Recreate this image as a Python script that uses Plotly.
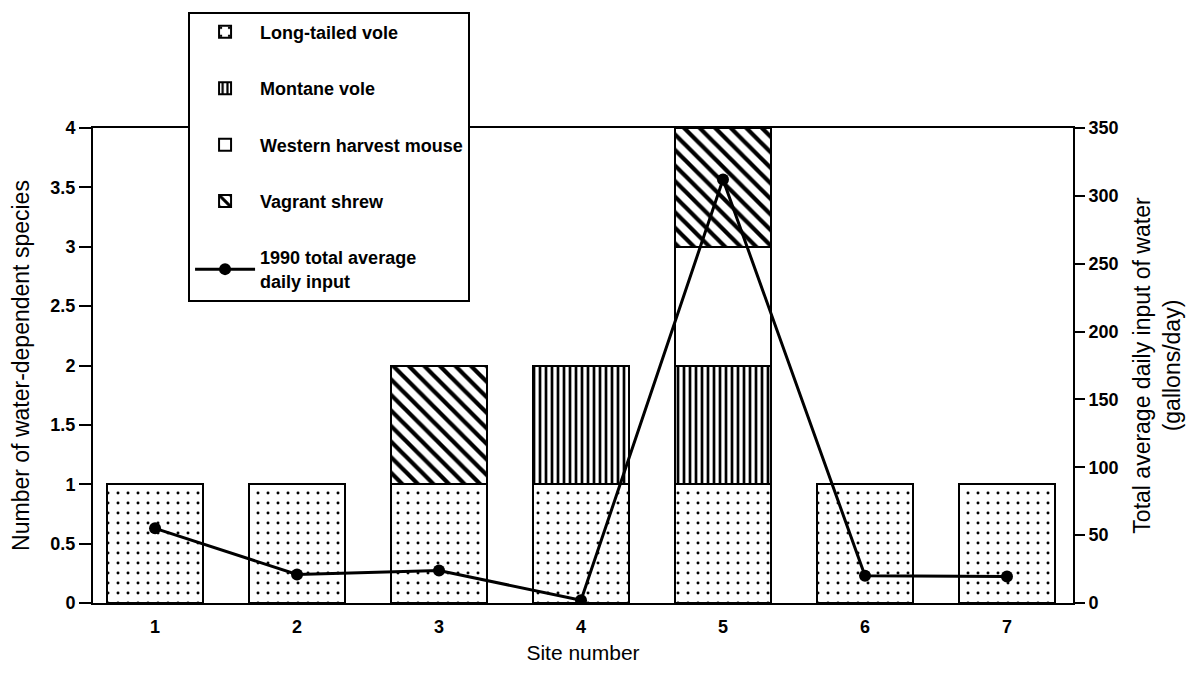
import plotly.graph_objects as go

sites = [1, 2, 3, 4, 5, 6, 7]
site_labels = ["1", "2", "3", "4", "5", "6", "7"]
long_tailed_vole = [1, 1, 1, 1, 1, 1, 1]
montane_vole = [None, None, None, 1, 1, None, None]
western_harvest_mouse = [None, None, None, None, 1, None, None]
vagrant_shrew = [None, None, 1, None, 1, None, None]
daily_input = [55, 21, 24, 2, 312, 20, 19.5]

left_ticks = [0, 0.5, 1, 1.5, 2, 2.5, 3, 3.5, 4]
right_ticks = [0, 50, 100, 150, 200, 250, 300, 350]

FONT = "Liberation Sans, Arial, sans-serif"
TICKFONT = dict(family=FONT, size=18, color="black", weight="bold")

fig = go.Figure()

bar_specs = [
    ("Long-tailed vole", long_tailed_vole, dict(shape=".", size=10, solidity=0.07)),
    ("Montane vole", montane_vole, dict(shape="|", size=6, solidity=0.45)),
    ("Western harvest mouse", western_harvest_mouse, dict(shape="")),
    ("Vagrant shrew", vagrant_shrew, dict(shape="\\", size=11, solidity=0.38)),
]
for i, (name, vals, pat) in enumerate(bar_specs):
    fig.add_trace(go.Bar(
        x=sites, y=vals, name=name, width=0.67,
        legendgroup=f"g{i}",
        marker=dict(color="white",
                    line=dict(color="black", width=2),
                    pattern=dict(fgcolor="black", bgcolor="white", fgopacity=1,
                                 fillmode="replace", **pat)),
        yaxis="y",
    ))

fig.add_trace(go.Scatter(
    x=sites, y=daily_input, name="1990 total average<br>daily input",
    mode="lines+markers", legendgroup="g4",
    line=dict(color="black", width=3),
    marker=dict(color="black", size=12),
    yaxis="y2",
))

fig.update_layout(
    width=1202, height=675,
    margin=dict(l=93, r=129, t=121, b=72),
    paper_bgcolor="white", plot_bgcolor="white",
    barmode="stack",
    font=dict(family=FONT, size=16, color="black"),
    xaxis=dict(
        range=[0.563, 7.465], tickvals=sites, ticktext=site_labels,
        showline=True, linecolor="black", linewidth=2, mirror=True,
        ticks="", showgrid=False, zeroline=False,
        tickfont=TICKFONT, ticklabelstandoff=6,
        title=dict(text="Site number", font=dict(size=21), standoff=10),
    ),
    yaxis=dict(
        range=[0, 4], tickvals=left_ticks,
        showline=True, linecolor="black", linewidth=2,
        ticks="outside", ticklen=12, tickwidth=2, tickcolor="black",
        showgrid=False, zeroline=False,
        tickfont=TICKFONT,
        title=dict(text="Number of water-dependent species", font=dict(size=23), standoff=14),
    ),
    yaxis2=dict(
        range=[0, 350], tickvals=right_ticks, overlaying="y", side="right",
        showline=True, linecolor="black", linewidth=2,
        ticks="outside", ticklen=10, tickwidth=2, tickcolor="black",
        showgrid=False, zeroline=False,
        tickfont=TICKFONT,
        title=dict(text="Total average daily input of water<br>(gallons/day)",
                   font=dict(size=23), standoff=16),
    ),
    legend=dict(
        x=0.097, y=1.245, xanchor="left", yanchor="top",
        bgcolor="white", bordercolor="black", borderwidth=2,
        font=dict(family=FONT, size=18, weight="bold"),
        traceorder="grouped", tracegroupgap=30,
        itemwidth=60,
    ),
)

fig.write_html("out.html")
